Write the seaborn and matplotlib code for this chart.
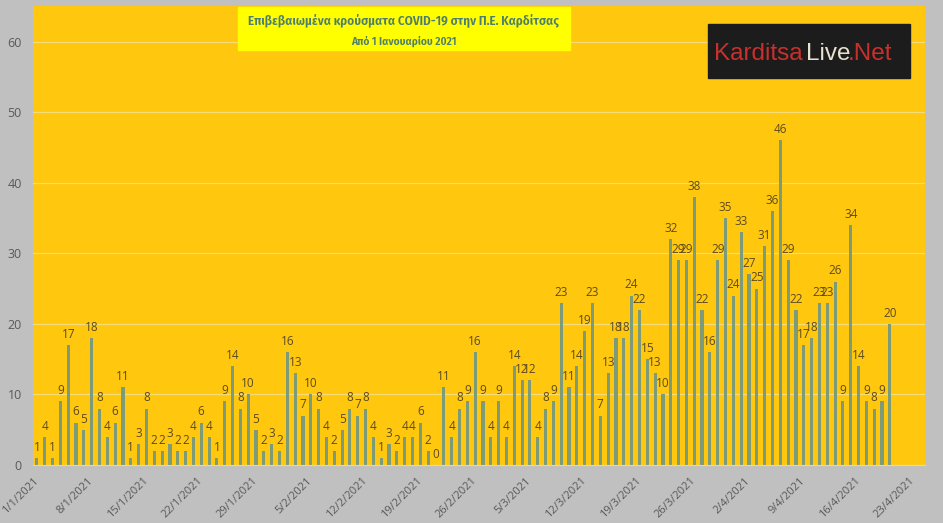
import matplotlib.pyplot as plt
import matplotlib.patches as mpatches
import pandas as pd
import seaborn as sns

# Daily confirmed cases, 1/1/2021 - 20/4/2021
jan = [1, 4, 1, 9, 17, 6, 5, 18, 8, 4, 6, 11, 1, 3, 8, 2, 2, 3, 2, 2, 4, 6, 4, 1, 9, 14, 8, 10, 5, 2, 3]
feb = [2, 16, 13, 7, 10, 8, 4, 2, 5, 8, 7, 8, 4, 1, 3, 2, 4, 4, 6, 2, 0, 11, 4, 8, 9, 16, 9, 4]
mar = [9, 4, 14, 12, 12, 4, 8, 9, 23, 11, 14, 19, 23, 7, 13, 18, 18, 24, 22, 15, 13, 10, 32, 29, 29, 38,
       22, 16, 29, 35, 24]
apr = [33, 27, 25, 31, 36, 46, 29, 22, 17, 18, 23, 23, 26, 9, 34, 14, 9, 8, 9, 20]
cases = jan + feb + mar + apr

tick_labels = ['1/1/2021', '8/1/2021', '15/1/2021', '22/1/2021', '29/1/2021', '5/2/2021',
               '12/2/2021', '19/2/2021', '26/2/2021', '5/3/2021', '12/3/2021', '19/3/2021',
               '26/3/2021', '2/4/2021', '9/4/2021', '16/4/2021', '23/4/2021']

title = 'Επιβεβαιωμένα κρούσματα COVID-19 στην Π.Ε. Καρδίτσας'
subtitle = 'Από 1 Ιανουαρίου 2021'

df = pd.DataFrame({'date': pd.date_range('2021-01-01', periods=len(cases)), 'cases': cases})
df['day'] = range(len(df))

sns.set_style('white')
plt.rcParams['font.family'] = ['Open Sans', 'DejaVu Sans']
narrow = ['Fira Sans Condensed', 'Roboto Condensed', 'DejaVu Sans']

fig = plt.figure(figsize=(9.43, 5.23), dpi=100, facecolor='#c0c0c0')
ax = fig.add_axes([0.035, 0.111, 0.946, 0.878])
ax.set_facecolor('#ffc80f')

sns.barplot(data=df, x='day', y='cases', color='#7e9b78', saturation=1, width=0.4,
            linewidth=0, ax=ax)
ax.bar_label(ax.containers[0], padding=3, fontsize=8.5, color='#5c4a1e')

ax.set_ylim(0, 65.1)
ax.set_yticks(range(0, 61, 10))
ax.set_xlim(-0.5, 113.5)
ax.set_xticks([-0.5 + 7 * k for k in range(len(tick_labels))])
ax.set_xticklabels(tick_labels, rotation=45, ha='right', rotation_mode='anchor')
ax.tick_params(axis='x', colors='#595959', labelsize=8, length=4, width=0.8, direction='out')
ax.tick_params(axis='x', color='#e0d0a0')
ax.tick_params(axis='y', colors='#595959', labelsize=9, length=0, pad=8)
ax.grid(axis='y', color='#f5dc78', linewidth=0.9)
ax.set_axisbelow(True)
ax.set_xlabel('')
ax.set_ylabel('')
for side in ['top', 'right', 'left']:
    ax.spines[side].set_visible(False)
ax.spines['bottom'].set_color('#e8d8a8')

# title box
fig.patches.append(mpatches.Rectangle((238 / 943, 1 - 50 / 523), 332 / 943, 43 / 523,
                                      transform=fig.transFigure, color='#ffff00', zorder=3))
fig.text(404 / 943, 1 - 21 / 523, title, ha='center', va='center', fontsize=9.4,
         color='#4d7d6c', fontweight='semibold', family=narrow, zorder=4)
fig.text(404 / 943, 1 - 41 / 523, subtitle, ha='center', va='center', fontsize=8.2,
         color='#4d7d6c', fontweight='semibold', family=narrow, zorder=4)

# logo
fig.patches.append(mpatches.Rectangle((708 / 943, 1 - 78 / 523), 202 / 943, 54 / 523,
                                      transform=fig.transFigure, color='#1c1c1c', zorder=3))
fig.text(714 / 943, 1 - 54 / 523, 'Karditsa', ha='left', va='center', fontsize=17.5,
         color='#c8302c', family=['Liberation Sans', 'DejaVu Sans'], zorder=4)
fig.text(806 / 943, 1 - 54 / 523, 'Live', ha='left', va='center', fontsize=17.5,
         color='#e8e0d0', family=['Liberation Sans', 'DejaVu Sans'], zorder=4)
fig.text(848 / 943, 1 - 54 / 523, '.Net', ha='left', va='center', fontsize=17.5,
         color='#c8302c', family=['Liberation Sans', 'DejaVu Sans'], zorder=4)

fig.savefig('out.png', dpi=100, facecolor=fig.get_facecolor())
